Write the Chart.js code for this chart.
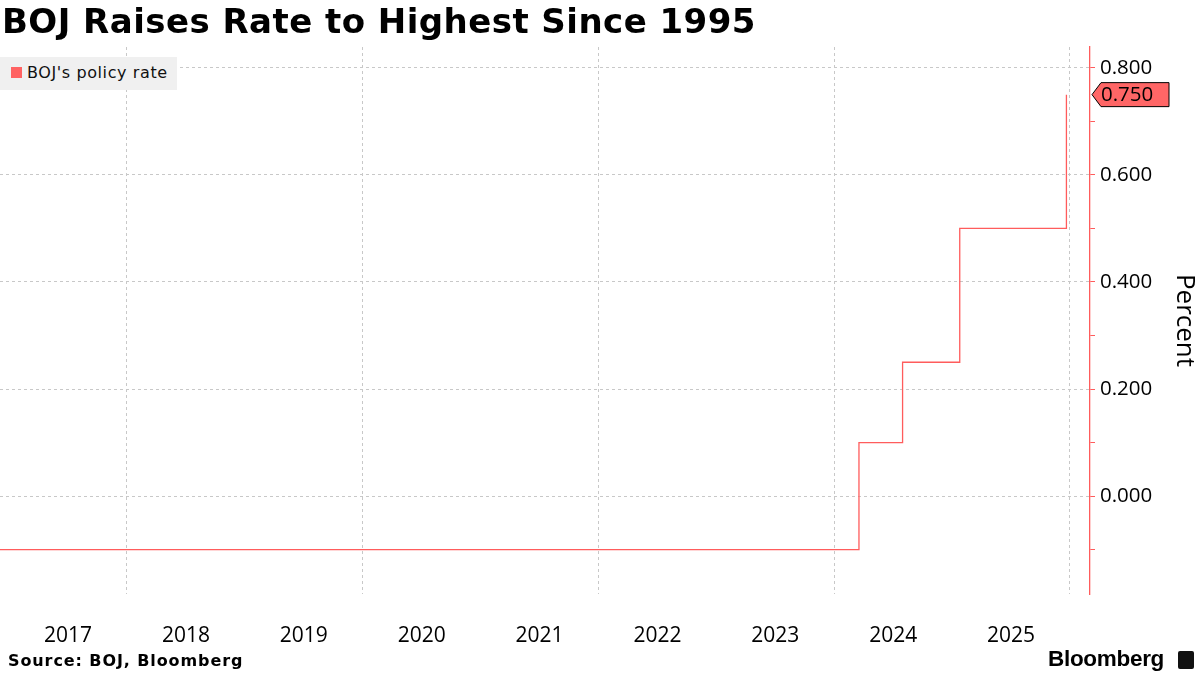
<!DOCTYPE html>
<html>
<head>
<meta charset="utf-8">
<script src="https://cdn.jsdelivr.net/npm/chart.js@4/dist/chart.umd.min.js"></script>
<style>
  html, body { margin: 0; padding: 0; background: #fff; }
  #wrap { position: relative; width: 1200px; height: 675px; overflow: hidden; }
  #title { position: absolute; left: 2px; top: 1px; font-family: "DejaVu Sans", sans-serif; font-weight: bold; font-size: 34px; color: #000; white-space: nowrap; letter-spacing: 0.45px; }
  #legend { position: absolute; left: 0; top: 57px; width: 177px; height: 33px; background: #f0f0f0; font-family: "DejaVu Sans", sans-serif; font-size: 16px; color: #111; }
  #legend .sw { position: absolute; left: 11px; top: 10px; width: 11px; height: 11px; background: #ff6262; }
  #legend .lb { position: absolute; left: 27px; top: 6px; white-space: nowrap; letter-spacing: 0.6px; }
  #source { position: absolute; left: 8px; top: 651px; font-family: "DejaVu Sans", sans-serif; font-weight: bold; font-size: 16px; color: #000; white-space: nowrap; letter-spacing: 0.9px; }
  #brand { position: absolute; left: 1048px; top: 646px; font-family: "Liberation Sans", "DejaVu Sans", sans-serif; font-weight: bold; font-size: 22.5px; color: #000; white-space: nowrap; letter-spacing: -0.3px; }
  #icon { position: absolute; left: 1178px; top: 651px; width: 16px; height: 18px; background: #111; border-radius: 2px; }
  canvas { position: absolute; left: 0; top: 0; }
</style>
</head>
<body>
<div id="wrap">
  <canvas id="c" width="1200" height="675"></canvas>
  <div id="title">BOJ Raises Rate to Highest Since 1995</div>
  <div id="legend"><div class="sw"></div><div class="lb">BOJ's policy rate</div></div>
  <div id="source">Source: BOJ, Bloomberg</div>
  <div id="brand">Bloomberg</div>
  <div id="icon"></div>
</div>
<script>
// Decimal-year dates of the policy rate levels (start of view and each change)
const rateDates = [2016.923, 2024.21, 2024.58, 2025.065, 2025.97];
const rateValues = [-0.1, 0.1, 0.25, 0.5, 0.75];
const seriesName = "BOJ's policy rate";
const yearLabels = ["2017", "2018", "2019", "2020", "2021", "2022", "2023", "2024", "2025"];
const yTicks = [-0.1, 0.0, 0.1, 0.2, 0.3, 0.4, 0.5, 0.6, 0.7, 0.8];
const lastValue = rateValues[rateValues.length - 1];

const RED = '#ff5c5c';
const xMin = 2016.923, xMax = 2026.17;
const FONT = '"Open Sans", "Noto Sans", sans-serif';

const tagPlugin = {
  id: 'tag',
  afterDraw(chart) {
    const ctx = chart.ctx;
    const ys = chart.scales.y;
    const y = ys.getPixelForValue(lastValue);
    const x0 = chart.chartArea.right + 2;
    const h = 24, w = 77;
    ctx.save();
    ctx.beginPath();
    ctx.moveTo(x0, y);
    ctx.lineTo(x0 + 9, y - h / 2);
    ctx.lineTo(x0 + w, y - h / 2);
    ctx.lineTo(x0 + w, y + h / 2);
    ctx.lineTo(x0 + 9, y + h / 2);
    ctx.closePath();
    ctx.fillStyle = '#ff6666';
    ctx.fill();
    ctx.lineWidth = 1;
    ctx.strokeStyle = '#000';
    ctx.stroke();
    ctx.fillStyle = '#000';
    ctx.font = '20.5px ' + FONT;
    ctx.textBaseline = 'middle';
    ctx.fillText(lastValue.toFixed(3), x0 + 9, y + 1);
    ctx.restore();
  }
};

new Chart(document.getElementById('c'), {
  type: 'line',
  data: {
    datasets: [{
      label: seriesName,
      data: rateDates.map((d, i) => ({ x: d, y: rateValues[i] })),
      borderColor: RED,
      borderWidth: 1.3,
      pointRadius: 0,
      stepped: 'before',
      fill: false
    }]
  },
  options: {
    responsive: false,
    animation: false,
    layout: { padding: { top: 47, left: 0, right: 0, bottom: 0 } },
    plugins: { legend: { display: false }, tooltip: { enabled: false } },
    scales: {
      x: {
        type: 'linear', position: 'bottom', min: xMin, max: xMax,
        afterBuildTicks(s) { s.ticks = [2018, 2020, 2022, 2024, 2026].map(v => ({ value: v })); },
        afterFit(s) { s.height = 0; },
        ticks: { display: false },
        grid: { color: '#c8c8c8', drawTicks: false, lineWidth: 1 },
        border: { display: false, dash: [3, 3] }
      },
      x2: {
        type: 'linear', position: 'bottom', min: xMin, max: xMax,
        afterBuildTicks(s) { s.ticks = yearLabels.map(l => ({ value: Number(l) + 0.5 })); },
        afterFit(s) { s.height = 81; },
        ticks: {
          autoSkip: false, maxRotation: 0, padding: 29, color: '#000',
          font: { family: FONT, size: 21 },
          callback: (v) => String(Math.floor(v))
        },
        grid: { display: false, drawTicks: false },
        border: { display: false }
      },
      y: {
        type: 'linear', position: 'right', min: -0.183, max: 0.839,
        afterBuildTicks(s) { s.ticks = yTicks.map(v => ({ value: v })); },
        afterFit(s) { s.width = 110; },
        ticks: {
          padding: 5, color: '#000',
          font: { family: FONT, size: 20.5 },
          callback: (v) => (Math.round(v * 10) % 2 === 0 ? v.toFixed(3) : '')
        },
        grid: {
          color: (c) => (c.tick && Math.round(c.tick.value * 10) % 2 === 0 ? '#c8c8c8' : 'rgba(0,0,0,0)'),
          tickColor: RED, tickLength: 5, tickWidth: 1, lineWidth: 1
        },
        border: { display: true, color: RED, width: 1.3, dash: [3, 3] },
        title: {
          display: true, text: 'Percent', color: '#000',
          font: { family: FONT, size: 26 },
          padding: { top: 0, bottom: 2 }
        }
      }
    }
  },
  plugins: [tagPlugin]
});
</script>
</body>
</html>
